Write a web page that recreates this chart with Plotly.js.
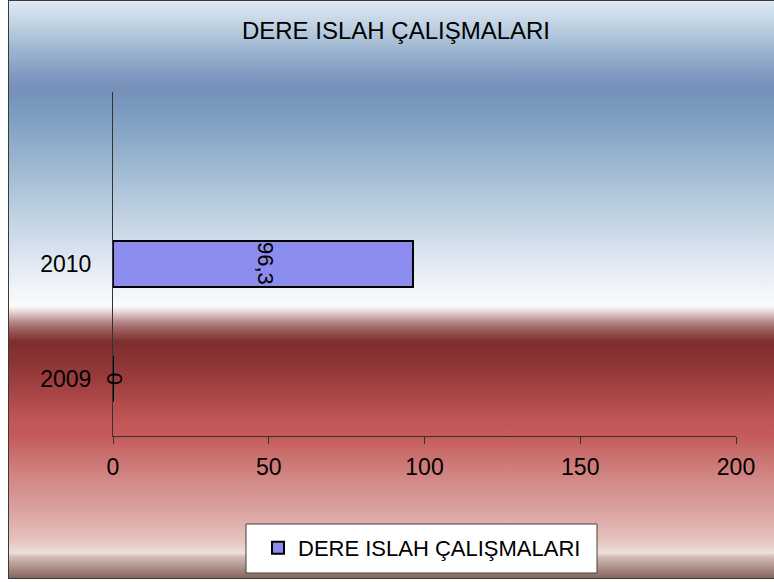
<!DOCTYPE html>
<html>
<head>
<meta charset="utf-8">
<script src="https://cdn.plot.ly/plotly-3.0.1.min.js"></script>
<style>
  html, body { margin: 0; padding: 0; background: #ffffff; }
  #wrap { position: relative; width: 774px; height: 582px; overflow: hidden; background: #ffffff; }
  #bg {
    position: absolute; left: 8px; top: 0px; width: 770px; height: 579px;
    border: 1px solid #3a3a3a; box-sizing: border-box;
    background: linear-gradient(to bottom,
      #dde9f3 0px, #c5d6e6 20px, #9bb5cf 50px, #7f98bf 75px, #7790ba 90px,
      #7b9bc0 110px, #93b0cc 150px, #b5cadd 200px, #d8e3ee 250px, #f2f5f9 290px,
      #fafbfc 305px, #f2e9e9 308px, #e0cccc 312px, #cdb0b0 316px, #b99090 320px,
      #a87070 325px, #985858 330px, #8a4040 336px, #7e2e2e 341px, #8a3434 360px,
      #9c3e3e 380px, #b04a4a 400px, #c25656 420px, #c55b5b 436px, #c96c6a 450px,
      #d28a88 480px, #daa2a0 510px, #e6c4bf 540px, #ece0da 552px, #d8c2bc 555px,
      #c5aaa4 560px, #b0928b 566px, #9a7a72 572px, #806058 578px);
  }
  #chart { position: absolute; left: 0; top: 0; width: 774px; height: 582px; }
</style>
</head>
<body>
<div id="wrap">
  <div id="bg"></div>
  <div id="chart"></div>
</div>
<script>
// ---- data ----
var chartTitle = "DERE ISLAH ÇALIŞMALARI";
var seriesName = "DERE ISLAH ÇALIŞMALARI";
var categories = ["2009", "2010"];
var values = [0, 96.3];
var xTickValues = [0, 50, 100, 150, 200];

var fontFamily = "Liberation Sans, Arial, sans-serif";

var trace = {
  type: "bar",
  orientation: "h",
  y: categories,
  x: values,
  name: seriesName,
  width: 0.4,
  marker: { color: "#8c8cee", line: { color: "#000000", width: 2 } },
  hoverinfo: "none",
  showlegend: true
};

function fmt(v) { return String(v).replace(".", ","); }

var annotations = categories.map(function (c, i) {
  return {
    x: values[i] / 2, y: i, xref: "x", yref: "y",
    text: fmt(values[i]), showarrow: false, textangle: 90,
    xshift: values[i] === 0 ? 1 : 3,
    font: { family: fontFamily, size: 22, color: "#000000" }
  };
});

var layout = {
  width: 774, height: 582,
  margin: { l: 113, r: 38, t: 92, b: 146, pad: 0, autoexpand: false },
  paper_bgcolor: "rgba(0,0,0,0)",
  plot_bgcolor: "rgba(0,0,0,0)",
  font: { family: fontFamily, size: 22, color: "#000000" },
  separators: ",.",
  title: {
    text: chartTitle, xref: "container", yref: "container",
    x: 396 / 774, xanchor: "center", y: 1 - 31 / 582, yanchor: "middle",
    font: { family: fontFamily, size: 24, color: "#000000" }
  },
  xaxis: {
    range: [0, 200], tickvals: xTickValues, ticktext: xTickValues.map(String),
    tickangle: 0, automargin: false, ticklabelstandoff: 3,
    showgrid: false, zeroline: false, showline: true, linecolor: "#333333", linewidth: 1,
    ticks: "outside", ticklen: 7, tickcolor: "#333333", tickwidth: 1,
    tickfont: { family: fontFamily, size: 23, color: "#000000" }, fixedrange: true
  },
  yaxis: {
    type: "category", categoryorder: "array", categoryarray: categories,
    range: [-0.5, 2.5], showgrid: false, zeroline: false, automargin: false,
    showline: true, linecolor: "#333333", linewidth: 1, ticks: "",
    ticklabelstandoff: 16,
    tickfont: { family: fontFamily, size: 23, color: "#000000" }, fixedrange: true
  },
  showlegend: true,
  legend: {
    xref: "paper", yref: "paper",
    x: (258 - 113) / 623, xanchor: "left", y: (436 - 548) / 344, yanchor: "middle",
    bgcolor: "rgba(0,0,0,0)", borderwidth: 0,
    font: { family: fontFamily, size: 22, color: "#000000" }
  },
  shapes: [{
    type: "rect", xref: "paper", yref: "paper", layer: "below",
    x0: (246 - 113) / 623, x1: (597 - 113) / 623,
    y0: (436 - 573) / 344, y1: (436 - 524) / 344,
    fillcolor: "#ffffff", line: { color: "#404040", width: 1 }
  }],
  annotations: annotations,
  bargap: 0.6
};

Plotly.newPlot("chart", [trace], layout, { staticPlot: true, displayModeBar: false });
</script>
</body>
</html>
